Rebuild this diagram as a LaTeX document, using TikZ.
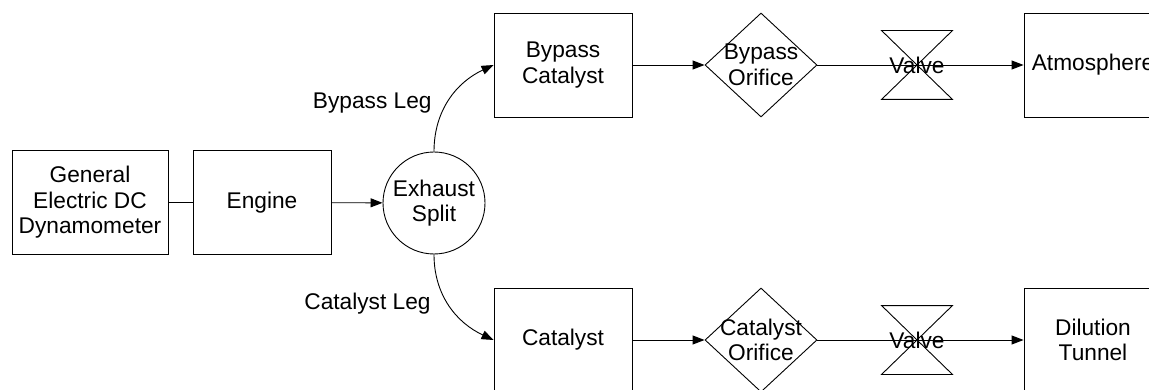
\documentclass[tikz,border=0pt]{standalone}
\usepackage{fontspec}
\setmainfont{Liberation Sans}
\usetikzlibrary{shapes.geometric,arrows.meta}
\begin{document}
\begin{tikzpicture}[x=1pt,y=-1pt,
  every node/.style={font=\fontsize{22.7}{25.5}\selectfont, align=center, inner sep=0pt},
  line width=0.9pt,
  box/.style={draw, rectangle, minimum width=138pt, minimum height=104pt},
  orifice/.style={draw, diamond, minimum width=112pt, minimum height=104pt},
  valvebox/.style={rectangle, minimum width=70pt, minimum height=68pt},
  split/.style={draw, circle, minimum size=102pt},
  flow/.style={-{Triangle[length=12pt,width=9pt]}}]
\useasboundingbox (0,0) rectangle (1149,390);
\clip (0,0) rectangle (1149,390);
% nodes
\node[box, minimum width=156pt] (dyn) at (90,202.5) {General\\Electric DC\\Dynamometer};
\node[box] (eng) at (262,202.5) {Engine};
\node[split] (ex) at (434,203) {Exhaust\\Split};
\node[box] (bc) at (563,65) {Bypass\\Catalyst};
\node[orifice, label={[align=center]center:Bypass\\Orifice}] (bo) at (761,65) {};
\node[valvebox, label={center:Valve}] (v1) at (917,65) {};
\node[box] (atm) at (1093,65) {Atmosphere};
\node[box] (cat) at (563,340) {Catalyst};
\node[orifice, label={[align=center]center:Catalyst\\Orifice}] (co) at (761,340) {};
\node[valvebox, label={center:Valve}] (v2) at (917,340) {};
\node[box] (dt) at (1093,340) {Dilution\\Tunnel};
\node[anchor=east] (bl) at (432,103) {Bypass Leg};
\node[anchor=east] (cl) at (431,304) {Catalyst Leg};
% valve bowties
\draw (v1.north west) -- (v1.north east) -- (v1.south west) -- (v1.south east) -- cycle;
\draw (v2.north west) -- (v2.north east) -- (v2.south west) -- (v2.south east) -- cycle;
% connectors
\draw (dyn) -- (eng);
\draw[flow] (eng) -- (ex);
\draw[flow] (ex.north) to[out=90, in=205] (bc.west);
\draw[flow] (ex.south) to[out=-90, in=155] (cat.west);
\draw[flow] (bc) -- (bo);
\draw (bo) -- (v1.center);
\draw[flow] (v1.center) -- (atm);
\draw[flow] (cat) -- (co);
\draw (co) -- (v2.center);
\draw[flow] (v2.center) -- (dt);
\end{tikzpicture}
\end{document}
